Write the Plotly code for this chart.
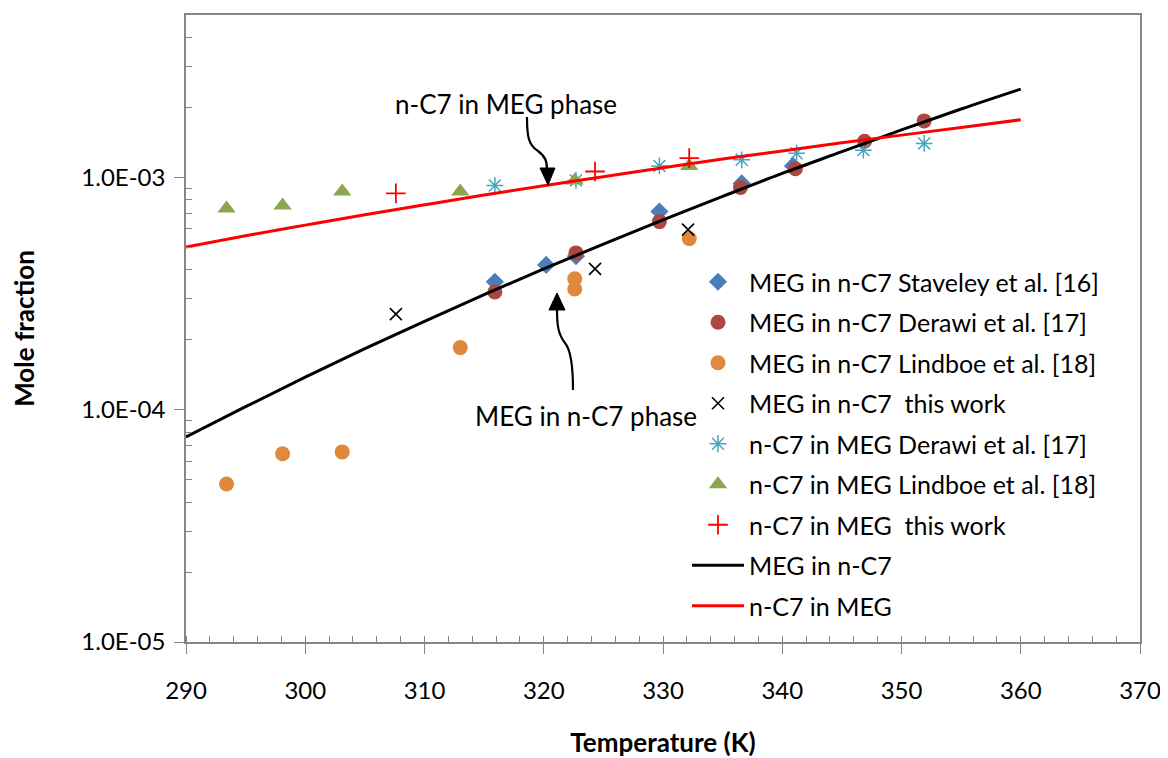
import plotly.graph_objects as go

# ---------------- data ----------------
stav_T = [315.9, 320.2, 322.7, 329.7, 336.6, 340.9]
stav_x = [3.55e-4, 4.20e-4, 4.58e-4, 7.13e-4, 9.42e-4, 1.12e-3]

der_meg_T = [315.9, 322.7, 329.7, 336.5, 341.1, 346.9, 351.9]
der_meg_x = [3.21e-4, 4.73e-4, 6.45e-4, 9.05e-4, 1.09e-3, 1.43e-3, 1.75e-3]

lin_meg_T = [293.4, 298.1, 303.1, 313.0, 322.6, 322.6, 332.2]
lin_meg_x = [4.79e-5, 6.46e-5, 6.58e-5, 1.85e-4, 3.66e-4, 3.31e-4, 5.45e-4]

tw_meg_T = [307.6, 324.3, 332.1]
tw_meg_x = [2.58e-4, 4.04e-4, 5.96e-4]

der_c7_T = [315.9, 322.7, 329.7, 336.6, 341.2, 346.8, 351.9]
der_c7_x = [9.23e-4, 9.70e-4, 1.12e-3, 1.19e-3, 1.27e-3, 1.31e-3, 1.40e-3]

lin_c7_T = [293.4, 298.1, 303.1, 313.0, 322.6, 332.2]
lin_c7_x = [7.34e-4, 7.56e-4, 8.69e-4, 8.69e-4, 9.70e-4, 1.12e-3]

tw_c7_T = [307.6, 324.3, 332.2]
tw_c7_x = [8.53e-4, 1.06e-3, 1.21e-3]

model_T = [290, 295, 300, 305, 310, 315, 320, 325, 330, 335, 340, 345, 350, 355, 360]
model_meg = [7.64e-5, 1.03e-4, 1.38e-4, 1.83e-4, 2.40e-4, 3.13e-4, 4.04e-4, 5.16e-4,
             6.56e-4, 8.28e-4, 1.04e-3, 1.29e-3, 1.60e-3, 1.97e-3, 2.40e-3]
model_c7 = [5.02e-4, 5.61e-4, 6.23e-4, 6.90e-4, 7.62e-4, 8.39e-4, 9.21e-4, 1.007e-3,
            1.10e-3, 1.20e-3, 1.30e-3, 1.41e-3, 1.52e-3, 1.64e-3, 1.77e-3]

y_tickvals = [1e-5, 1e-4, 1e-3]
y_ticktext = ["1.0E-05", "1.0E-04", "1.0E-03"]
y_minor_vals = [m * d for d in (1e-5, 1e-4) for m in range(2, 10)] + [2e-3, 3e-3, 4e-3]
x_tickvals = [290, 300, 310, 320, 330, 340, 350, 360, 370]

# ---------------- figure ----------------
# page body has an 8px margin, so the figure is offset by 8px on screen
OFF = 8
W, H = 1160, 750
L, R, T, B = 178, 28, 7, 116
FONT = "Lato"

fig = go.Figure()

def scatter(x, y, name, symbol, color, size, lw=0):
    marker = dict(symbol=symbol, color=color, size=size)
    if lw:
        marker["line"] = dict(color=color, width=lw)
    fig.add_trace(go.Scatter(x=x, y=y, mode="markers", name=name, marker=marker,
                             legendgroup=name))

scatter(stav_T, stav_x, "MEG in n-C7 Staveley et al. [16]", "diamond", "#4a7ebb", 14)
scatter(der_meg_T, der_meg_x, "MEG in n-C7 Derawi et al. [17]", "circle", "#ab4643", 15)
scatter(lin_meg_T, lin_meg_x, "MEG in n-C7 Lindboe et al. [18]", "circle", "#e0883b", 15)
scatter(tw_meg_T, tw_meg_x, "MEG in n-C7  this work", "x-thin-open", "#000000", 12, 1.6)
scatter(der_c7_T, der_c7_x, "n-C7 in MEG Derawi et al. [17]", "asterisk-open", "#4aa3c0", 14, 1.5)
scatter(lin_c7_T, lin_c7_x, "n-C7 in MEG Lindboe et al. [18]", "triangle-up", "#8ca64f", 16)
scatter(tw_c7_T, tw_c7_x, "n-C7 in MEG  this work", "cross-thin-open", "#ff0000", 14, 1.8)

fig.add_trace(go.Scatter(x=model_T, y=model_meg, mode="lines", name="MEG in n-C7",
                         line=dict(color="#000000", width=3, shape="spline"),
                         legendgroup="l1"))
fig.add_trace(go.Scatter(x=model_T, y=model_c7, mode="lines", name="n-C7 in MEG",
                         line=dict(color="#ff0000", width=3, shape="spline"),
                         legendgroup="l2"))

axis_col = "#868686"
fig.update_xaxes(range=[290, 370], tickvals=x_tickvals, showgrid=False, zeroline=False,
                 automargin=False,
                 showline=True, linecolor=axis_col, linewidth=1.5, mirror=True,
                 ticks="outside", ticklen=10, tickcolor=axis_col, tickwidth=1,
                 ticklabelstandoff=16,
                 minor=dict(dtick=2, ticks="inside", ticklen=6, tickcolor=axis_col, showgrid=False),
                 tickfont=dict(family=FONT, size=24, color="#000000"),
                 title=dict(text="<b>Temperature (K)</b>", standoff=31,
                            font=dict(family=FONT, size=26, color="#000000")))
fig.update_yaxes(type="log", range=[-5, -2.30103], tickvals=y_tickvals, ticktext=y_ticktext,
                 automargin=False,
                 showgrid=False, zeroline=False, showline=True, linecolor=axis_col,
                 linewidth=1.5, mirror=True, ticks="outside", ticklen=10, tickcolor=axis_col,
                 tickwidth=1, ticklabelstandoff=4,
                 minor=dict(tickmode="array", tickvals=y_minor_vals, ticks="inside",
                            ticklen=6, tickcolor=axis_col, showgrid=False),
                 tickfont=dict(family=FONT, size=24, color="#000000"),
                 title=dict(text="<b>Mole fraction</b>", standoff=40,
                            font=dict(family=FONT, size=26, color="#000000")))

# convert on-screen pixel positions to paper fractions
def px(x):
    return (x - OFF - L) / (W - L - R)

def py(y):
    return (H - B - (y - OFF)) / (H - T - B)

def P(x, y):
    return f"{px(x):.5f},{py(y):.5f}"

# curved arrows (paper coordinates)
arrow1 = f"M {P(527,117)} C {P(527,135)} {P(528,145)} {P(538,151)} C {P(546,157)} {P(547,162)} {P(547,170)}"
head1 = f"M {P(540,168)} L {P(555,168)} L {P(548,185)} Z"
arrow2 = f"M {P(573,390)} C {P(573,365)} {P(571,350)} {P(565,343)} C {P(558,334)} {P(557,325)} {P(557,309)}"
head2 = f"M {P(549,310)} L {P(565,310)} L {P(557,293)} Z"
for path, fill in [(arrow1, None), (head1, "#000000"), (arrow2, None), (head2, "#000000")]:
    shp = dict(type="path", path=path, xref="paper", yref="paper",
               line=dict(color="#000000", width=2.2))
    if fill:
        shp["fillcolor"] = fill
        shp["line"] = dict(color="#000000", width=1)
    fig.add_shape(**shp)

fig.add_annotation(text="n-C7 in MEG phase", xref="paper", yref="paper",
                   x=px(506), y=py(104), xanchor="center", yanchor="middle", showarrow=False,
                   font=dict(family=FONT, size=26, color="#000000"))
fig.add_annotation(text="MEG in n-C7 phase", xref="paper", yref="paper",
                   x=px(586), y=py(416), xanchor="center", yanchor="middle", showarrow=False,
                   font=dict(family=FONT, size=26, color="#000000"))

fig.update_layout(
    width=W, height=H,
    margin=dict(l=L, r=R, t=T, b=B),
    paper_bgcolor="#ffffff", plot_bgcolor="#ffffff",
    font=dict(family=FONT, color="#000000"),
    legend=dict(x=px(687), y=py(259), xanchor="left", yanchor="top",
                font=dict(family=FONT, size=25, color="#000000"),
                bgcolor="rgba(0,0,0,0)", tracegroupgap=5, itemwidth=52),
)

fig.write_html("out.html")
